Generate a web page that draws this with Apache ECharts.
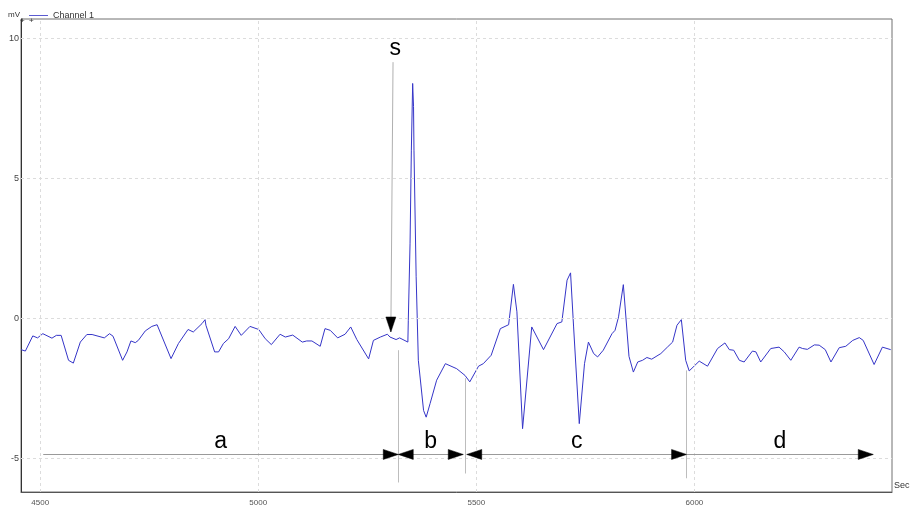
<!DOCTYPE html>
<html><head><meta charset="utf-8">
<script src="https://cdn.jsdelivr.net/npm/echarts@6/dist/echarts.min.js"></script>
<style>html,body{margin:0;padding:0;background:#fff}#c{width:913px;height:523px}</style>
</head><body><div id="c"></div>
<script>
// ---- data ----
const timeSec = [4456,4466,4483,4494,4506,4527,4537,4548,4565,4576,4592,4607,4619,4647,4659,4667,4689,4699,4708,4718,4725,4741,4756,4768,4800,4817,4839,4851,4871,4878,4880,4900,4909,4920,4932,4947,4961,4981,5001,5016,5030,5050,5062,5079,5101,5111,5123,5142,5153,5165,5182,5199,5212,5226,5253,5264,5280,5296,5302,5316,5324,5343,5344,5348,5351,5354,5356,5357,5362,5367,5379,5385,5394,5409,5429,5455,5474,5485,5505,5516,5534,5555,5574,5585,5593,5606,5627,5654,5685,5696,5708,5716,5723,5736,5748,5757,5769,5778,5791,5811,5818,5826,5837,5850,5860,5870,5881,5891,5902,5923,5938,5950,5960,5970,5980,5988,6011,6030,6053,6070,6080,6090,6103,6114,6133,6141,6152,6175,6194,6206,6221,6240,6248,6259,6275,6286,6300,6313,6332,6347,6363,6378,6387,6412,6431,6450];
const channel1 = [-1.12,-1.17,-0.63,-0.70,-0.55,-0.71,-0.61,-0.61,-1.50,-1.60,-0.85,-0.58,-0.58,-0.70,-0.55,-0.64,-1.50,-1.20,-0.81,-0.87,-0.79,-0.45,-0.29,-0.23,-1.44,-0.90,-0.40,-0.49,-0.19,-0.05,-0.25,-1.20,-1.20,-0.90,-0.73,-0.29,-0.61,-0.29,-0.40,-0.73,-0.94,-0.57,-0.67,-0.60,-0.85,-0.81,-0.81,-1.00,-0.37,-0.43,-0.70,-0.57,-0.31,-0.76,-1.45,-0.79,-0.67,-0.57,-0.67,-0.76,-0.70,-0.85,-0.07,2.68,6.00,8.38,7.55,6.00,1.48,-1.50,-3.29,-3.53,-3.04,-2.21,-1.62,-1.80,-2.04,-2.27,-1.71,-1.62,-1.32,-0.37,-0.23,1.21,0.23,-3.94,-0.31,-1.12,-0.19,-0.13,1.36,1.62,-0.31,-3.76,-1.62,-0.85,-1.26,-1.38,-1.14,-0.55,-0.43,0.05,1.20,-1.36,-1.92,-1.56,-1.50,-1.40,-1.46,-1.26,-1.03,-0.85,-0.25,-0.05,-1.50,-1.88,-1.53,-1.71,-1.08,-0.88,-1.12,-1.14,-1.50,-1.56,-1.17,-1.20,-1.56,-1.08,-1.03,-1.20,-1.50,-1.03,-1.08,-1.11,-0.95,-0.96,-1.12,-1.56,-1.05,-1.00,-0.79,-0.69,-0.79,-1.65,-1.03,-1.12];
const xTickLabels = [4500, 5000, 5500, 6000];
const yTickLabels = [-5, 0, 5, 10];
const seriesName = 'Channel 1';
const segmentLabels = ['a', 'b', 'c', 'd'];
const segmentStarts = [4507, 5321, 5478, 5982];
const segmentEnds = [5321, 5470, 5982, 6410];
const segmentLeftArrow = [false, true, true, false];
const boundaryMarks = [5321, 5474, 5982];
const boundaryTops = [-1.14, -2.14, -1.86];
const stimulusLabel = 's';
const stimulusFrom = [5309, 9.14];
const stimulusTo = [5304, -0.49];

// ---- chart ----
const xMin = 4456, xMax = 6453, yMin = -6.2, yMax = 10.68;
const arrowY = -4.86, boundaryBottom = [-5.86, -5.54, -5.71];
const font = 'Liberation Sans, Arial, sans-serif';
const lineColor = '#3535c8';

const signal = timeSec.map((t, i) => [t, channel1[i]]);
const gridLines = xTickLabels.map(v => ({xAxis: v})).concat(yTickLabels.map(v => ({yAxis: v})));

const guideLines = [];
const arrowTips = [];
const arrowDirs = [];
segmentLabels.forEach((lab, i) => {
  guideLines.push([{coord: [segmentStarts[i], arrowY]}, {coord: [segmentEnds[i], arrowY]}]);
  if (segmentLeftArrow[i]) { arrowTips.push([segmentStarts[i], arrowY]); arrowDirs.push('left'); }
  arrowTips.push([segmentEnds[i], arrowY]); arrowDirs.push('right');
});
boundaryMarks.forEach((x, i) => {
  guideLines.push([{coord: [x, boundaryTops[i]], lineStyle: {color: '#bdbdbd'}}, {coord: [x, boundaryBottom[i]]}]);
});
guideLines.push([{coord: stimulusFrom, lineStyle: {color: '#b0b0b0'}}, {coord: stimulusTo}]);
arrowTips.push(stimulusTo); arrowDirs.push('down');

const letterPoints = segmentLabels.map((lab, i) => ({
  coord: [(segmentStarts[i] + segmentEnds[i]) / 2, -4.42], value: lab
}));
letterPoints.push({coord: [5314, 9.62], value: stimulusLabel});

const chart = echarts.init(document.getElementById('c'), null, {renderer: 'canvas'});
chart.setOption({
  animation: false,
  backgroundColor: '#fff',
  grid: {left: 21, right: 21, top: 19, bottom: 31, show: true, borderColor: '#707070', borderWidth: 1},
  legend: {
    data: [seriesName], left: 29, top: 11, itemWidth: 19, itemHeight: 1, icon: 'rect',
    itemStyle: {color: '#5a5ad0'},
    itemGap: 4, textStyle: {fontFamily: font, fontSize: 9, color: '#333'},
    padding: 0
  },
  xAxis: {
    type: 'value', min: xMin, max: xMax,
    name: 'Sec', nameLocation: 'end', nameGap: 2,
    nameTextStyle: {fontFamily: font, fontSize: 9, color: '#333', verticalAlign: 'bottom', padding: [0, 0, 2, 0]},
    axisLine: {show: true, onZero: false, lineStyle: {color: '#555', width: 1}},
    axisTick: {show: false},
    splitLine: {show: false},
    axisLabel: {customValues: xTickLabels, formatter: v => String(v), fontFamily: font, fontSize: 8, color: '#555', margin: 7}
  },
  yAxis: {
    type: 'value', min: yMin, max: yMax,
    name: 'mV', nameLocation: 'end', nameGap: 4,
    nameTextStyle: {fontFamily: font, fontSize: 8, color: '#333', align: 'right', verticalAlign: 'middle', padding: [0, 1, 0, 0]},
    axisLine: {show: true, onZero: false, lineStyle: {color: '#333', width: 1}},
    axisTick: {show: false},
    splitLine: {show: false},
    axisLabel: {customValues: yTickLabels, formatter: v => String(v), fontFamily: font, fontSize: 9, color: '#444', margin: 2, verticalAlign: 'middle'}
  },
  series: [
    {
      name: 'grid', type: 'line', data: [], silent: true, z: 1,
      markLine: {silent: true, symbol: 'none', label: {show: false},
        lineStyle: {color: '#dcdcdc', type: [3, 3], width: 1}, data: gridLines}
    },
    {
      name: seriesName, type: 'line', data: signal, showSymbol: false, symbol: 'none', z: 3,
      lineStyle: {color: lineColor, width: 1}, itemStyle: {color: lineColor}
    },
    {
      name: 'guides', type: 'line', data: [], silent: true, z: 4,
      markLine: {silent: true, symbol: 'none', label: {show: false},
        lineStyle: {color: '#9a9a9a', type: 'solid', width: 1}, data: guideLines}
    },
    {
      name: 'arrows', type: 'custom', data: arrowTips, silent: true, clip: false, z: 20,
      renderItem: (params, api) => {
        const p = api.coord([api.value(0), api.value(1)]);
        const d = arrowDirs[params.dataIndex];
        const L = 15, W = 5;
        let pts;
        if (d === 'right') pts = [[p[0], p[1]], [p[0] - L, p[1] - W], [p[0] - L, p[1] + W]];
        else if (d === 'left') pts = [[p[0], p[1]], [p[0] + L, p[1] - W], [p[0] + L, p[1] + W]];
        else pts = [[p[0], p[1]], [p[0] - W, p[1] - L], [p[0] + W, p[1] - L]];
        return {type: 'polygon', z2: 50, shape: {points: pts}, style: {fill: '#000', stroke: '#000', lineWidth: 0.5}};
      }
    },
    {
      name: 'letters', type: 'line', data: [], silent: true, z: 5,
      markPoint: {silent: true, symbol: 'circle', symbolSize: 0,
        label: {show: true, position: 'inside', formatter: p => p.value, fontFamily: font, fontSize: 23, color: '#000'},
        data: letterPoints}
    }
  ],
  graphic: [
    {type: 'text', left: 20, top: 17, style: {text: '+  +', fontSize: 8, fill: '#333', fontFamily: font}}
  ]
});
</script></body></html>
